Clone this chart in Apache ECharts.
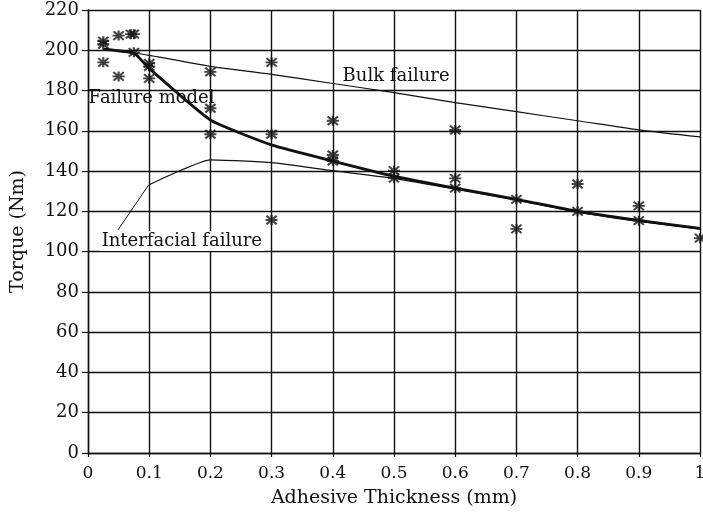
<!DOCTYPE html>
<html>
<head>
<meta charset="utf-8">
<script src="https://cdn.jsdelivr.net/npm/echarts@6/dist/echarts.min.js"></script>
<style>
html,body{margin:0;padding:0;background:#fff;}
#chart{width:703px;height:512px;}
</style>
</head>
<body>
<div id="chart"></div>
<script>
// ---- data ----
const xTicks = [0, 0.1, 0.2, 0.3, 0.4, 0.5, 0.6, 0.7, 0.8, 0.9, 1];
const yTicks = [0, 20, 40, 60, 80, 100, 120, 140, 160, 180, 200, 220];

const bulkX = [0.025, 0.1, 0.2, 0.3, 0.4, 0.5, 0.6, 0.7, 0.8, 0.9, 1.0];
const bulkY = [200.5, 197.5, 192, 188, 183.5, 179, 174, 169.5, 165, 160.5, 157];

const modelX = [0.025, 0.075, 0.1, 0.2, 0.3, 0.4, 0.5, 0.6, 0.7, 0.8, 0.9, 1.0];
const modelY = [200.5, 198.5, 191, 165.4, 153, 145, 137.5, 131.5, 126, 120, 115.5, 111.5];

const interX = [0.1, 0.2, 0.3, 0.4, 0.5, 0.6, 0.7, 0.8, 0.9, 1.0];
const interY = [133.2, 145.6, 144.2, 140.2, 136.4, 131, 125.6, 119.6, 115, 111.2];

const pointerX = [0.049, 0.099];
const pointerY = [110.8, 133.1];

const expX = [0.025, 0.025, 0.025, 0.05, 0.05, 0.07, 0.075, 0.075, 0.1, 0.1, 0.1,
              0.2, 0.2, 0.2, 0.3, 0.3, 0.3, 0.4, 0.4, 0.4, 0.5, 0.5,
              0.6, 0.6, 0.6, 0.7, 0.7, 0.8, 0.8, 0.9, 0.9, 1.0];
const expY = [204.5, 203, 194, 207.3, 187, 208, 208, 199, 193.5, 192, 186,
              189.3, 171.2, 158.3, 194, 158.3, 115.7, 165, 148, 145, 140.2, 136.5,
              160.4, 136.4, 131.5, 126, 111.3, 133.6, 120, 122.7, 115.4, 106.7];

const seriesNames = ['Bulk failure', 'Failure model', 'Interfacial failure'];
const xTitle = 'Adhesive Thickness (mm)';
const yTitle = 'Torque (Nm)';

// ---- chart ----
const zip = (xs, ys) => xs.map((x, i) => [x, ys[i]]);
const FONT = 'DejaVu Serif';
const INK = '#111';
const asterisk = 'path://M0,4.1L10,4.1L10,5.9L0,5.9Z M4.1,0L5.9,0L5.9,10L4.1,10Z M0.1,1.4L1.4,0.1L9.9,8.6L8.6,9.9Z M8.6,0.1L9.9,1.4L1.4,9.9L0.1,8.6Z';

const chart = echarts.init(document.getElementById('chart'), null, {renderer: 'canvas'});
chart.setOption({
  animation: false,
  backgroundColor: '#fff',
  grid: {left: 88, right: 3, top: 10, bottom: 59, containLabel: false, outerBoundsMode: 'none'},
  xAxis: {
    type: 'value', min: 0, max: 1, interval: 0.1,
    name: xTitle, nameLocation: 'middle', nameGap: 36,
    nameTextStyle: {fontFamily: FONT, fontSize: 19, color: INK},
    axisLine: {show: true, onZero: false, lineStyle: {color: INK, width: 1.4}},
    axisTick: {show: true, length: 4, lineStyle: {color: INK, width: 1.2}},
    axisLabel: {fontFamily: FONT, fontSize: 17, color: INK, margin: 12,
      formatter: v => { const s = xTicks.find(t => Math.abs(t - v) < 1e-9); return s === undefined ? '' : String(s); }},
    splitLine: {show: true, lineStyle: {color: INK, width: 1.4}}
  },
  yAxis: {
    type: 'value', min: 0, max: 220, interval: 20,
    name: yTitle, nameLocation: 'middle', nameGap: 60, nameRotate: 90,
    nameTextStyle: {fontFamily: FONT, fontSize: 19, color: INK},
    axisLine: {show: true, lineStyle: {color: INK, width: 1.4}},
    axisTick: {show: true, length: 6, lineStyle: {color: INK, width: 1.2}},
    axisLabel: {fontFamily: FONT, fontSize: 18, color: INK, margin: 9,
      formatter: v => { const s = yTicks.find(t => Math.abs(t - v) < 1e-9); return s === undefined ? '' : String(s); }},
    splitLine: {show: true, lineStyle: {color: INK, width: 1.4}}
  },
  series: [
    {
      name: seriesNames[0], type: 'line', data: zip(bulkX, bulkY),
      symbol: 'none', smooth: 0.3, lineStyle: {color: INK, width: 1.2}, z: 3,
      markPoint: {symbol: 'rect', symbolSize: 0, data: [{coord: [0.416, 187], value: seriesNames[0]}],
        label: {show: true, position: 'right', distance: 0, formatter: seriesNames[0], fontFamily: FONT, fontSize: 18, color: INK}}
    },
    {
      name: seriesNames[1], type: 'line', data: zip(modelX, modelY),
      symbol: 'none', smooth: 0.15, lineStyle: {color: INK, width: 2.8}, z: 4,
      markPoint: {symbol: 'rect', symbolSize: 0, data: [{coord: [0.001, 176], value: seriesNames[1]}],
        label: {show: true, position: 'right', distance: 0, formatter: seriesNames[1], fontFamily: FONT, fontSize: 18, color: INK}}
    },
    {
      name: seriesNames[2], type: 'line', data: zip(interX, interY),
      symbol: 'none', smooth: 0.15, lineStyle: {color: INK, width: 1.2}, z: 3,
      markPoint: {symbol: 'rect', symbolSize: 0, data: [{coord: [0.019, 105.3], value: seriesNames[2]}],
        label: {show: true, position: 'right', distance: 0, formatter: seriesNames[2], fontFamily: FONT, fontSize: 18, color: INK,
          backgroundColor: '#fff', padding: [1, 2]}}
    },
    {
      name: 'pointer', type: 'line', data: zip(pointerX, pointerY),
      symbol: 'none', lineStyle: {color: INK, width: 1}, z: 3, silent: true
    },
    {
      name: 'Experimental', type: 'scatter', data: zip(expX, expY),
      symbol: asterisk, symbolSize: [12, 10], clip: false,
      itemStyle: {color: INK}, z: 5
    }
  ]
});
</script>
</body>
</html>
